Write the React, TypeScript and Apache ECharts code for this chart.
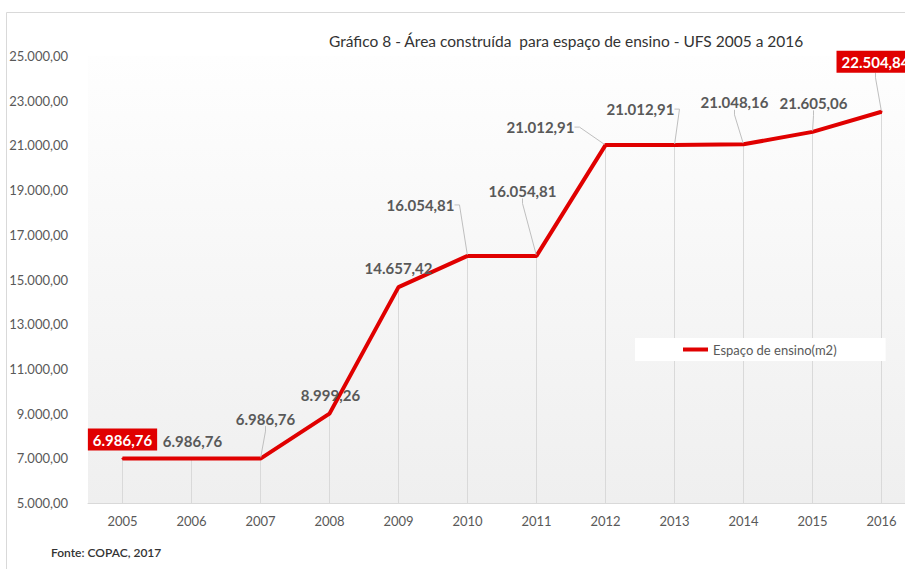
import React, { useEffect, useRef } from "react";
import * as echarts from "echarts";

const years = ["2005", "2006", "2007", "2008", "2009", "2010", "2011", "2012", "2013", "2014", "2015", "2016"];
const area = [6986.76, 6986.76, 6986.76, 8999.26, 14657.42, 16054.81, 16054.81, 21012.91, 21012.91, 21048.16, 21605.06, 22504.84];
const seriesName = "Espaço de ensino(m2)";
const titleText = "Gráfico 8 - Área construída  para espaço de ensino - UFS 2005 a 2016";
const sourceText = "Fonte: COPAC, 2017";
const yMin = 5000;
const yMax = 25000;
const yStep = 2000;

// label offsets (style, not data): [dx, dy] from the point, and whether a leader line is drawn
const labelOffsets: [number, number][] = [
  [0, -19], [1, -18], [5, -40], [1, -19], [0, -19], [-47, -51],
  [-14, -65], [-65, -18], [-34, -36], [-9, -42], [1, -29], [-6, -50],
];
const showLeader = [false, false, true, false, false, true, true, true, true, true, true, true];
const highlighted = [true, false, false, false, false, false, false, false, false, false, false, true];

function fmt(v: number): string {
  const fixed = Math.abs(v).toFixed(2);
  const [int, dec] = fixed.split(".");
  const withDots = int.replace(/\B(?=(\d{3})+(?!\d))/g, ".");
  return (v < 0 ? "-" : "") + withDots + "," + dec;
}

const FONT = "Lato, 'Open Sans', sans-serif";
const RED = "#e00000";
const GREY_TEXT = "#595959";

export default function App() {
  const ref = useRef<HTMLDivElement>(null);
  useEffect(() => {
    if (!ref.current) return;
    const chart = echarts.init(ref.current, undefined, { renderer: "svg" });
    const data = area.map((v, i) => {
      const item: any = { value: v, labelLine: { show: showLeader[i] } };
      if (highlighted[i]) {
        item.label = {
          backgroundColor: RED,
          color: "#ffffff",
          padding: [4, 5, 3, 5],
        };
      }
      return item;
    });
    chart.setOption({
      animation: false,
      backgroundColor: "#ffffff",
      textStyle: { fontFamily: FONT },
      title: {
        text: titleText,
        left: 329,
        top: 33,
        padding: 0,
        textStyle: { fontFamily: FONT, fontSize: 15.5, fontWeight: "normal", color: "#333333" },
      },
      legend: {
        left: 635,
        top: 338,
        orient: "horizontal",
        backgroundColor: "#ffffff",
        padding: [5, 49, 5, 48],
        itemWidth: 25,
        itemHeight: 4,
        icon: "rect",
        data: [seriesName],
        textStyle: { fontFamily: FONT, fontSize: 13, color: GREY_TEXT },
      },
      grid: {
        left: 88,
        top: 56,
        width: 828,
        height: 447,
        outerBoundsMode: "none",
        containLabel: false,
        show: true,
        borderWidth: 0,
        backgroundColor: new echarts.graphic.LinearGradient(0, 0, 0, 1, [
          { offset: 0, color: "#fefefe" },
          { offset: 1, color: "#efefef" },
        ]),
      },
      xAxis: {
        type: "category",
        data: years,
        boundaryGap: true,
        axisLine: { show: true, lineStyle: { color: "#d9d9d9", width: 1 } },
        axisTick: { show: false },
        splitLine: { show: false },
        axisLabel: { color: GREY_TEXT, fontSize: 13, fontFamily: FONT, margin: 11 },
      },
      yAxis: {
        type: "value",
        min: yMin,
        max: yMax,
        interval: yStep,
        axisLine: { show: false },
        axisTick: { show: false },
        splitLine: { show: false },
        axisLabel: {
          color: GREY_TEXT,
          fontSize: 13,
          fontFamily: FONT,
          margin: 20,
          formatter: (v: number) => fmt(v),
        },
      },
      series: [
        {
          name: seriesName,
          type: "line",
          data,
          symbol: "circle",
          symbolSize: 2,
          showSymbol: true,
          color: RED,
          itemStyle: { color: RED },
          lineStyle: { color: RED, width: 4 },
          z: 3,
          label: {
            show: true,
            position: "top",
            fontFamily: FONT,
            fontSize: 15,
            fontWeight: "bold",
            color: GREY_TEXT,
            formatter: (p: any) => fmt(p.value),
          },
          labelLine: {
            show: true,
            length2: 5,
            lineStyle: { color: "#bfbfbf", width: 1 },
          },
          labelLayout: (p: any) => {
            const i = p.dataIndex;
            const r = p.rect;
            const cx = r.x + r.width / 2;
            const cy = r.y + r.height / 2;
            return {
              x: cx + labelOffsets[i][0],
              y: cy + labelOffsets[i][1],
              align: "center",
              verticalAlign: "middle",
            };
          },
          markLine: {
            silent: true,
            symbol: "none",
            label: { show: false },
            lineStyle: { color: "#d9d9d9", width: 1, type: "solid" },
            z: 1,
            data: years.map((y, i) => [
              { coord: [y, area[i]] },
              { coord: [y, yMin] },
            ]),
          },
        },
      ],
      graphic: [
        {
          type: "rect",
          shape: { x: 6.5, y: 12.5, width: 1000, height: 1000 },
          style: { fill: "none", stroke: "#d9d9d9", lineWidth: 1 },
          silent: true,
          z: 0,
        },
        {
          type: "text",
          left: 51,
          top: 546,
          style: {
            text: sourceText,
            fontFamily: FONT,
            fontSize: 12,
            fontWeight: 600,
            fill: "#333333",
          },
        },
      ],
    });
    return () => chart.dispose();
  }, []);
  return <div ref={ref} style={{ position: "fixed", left: 0, top: 0, width: 905, height: 569 }} />;
}
